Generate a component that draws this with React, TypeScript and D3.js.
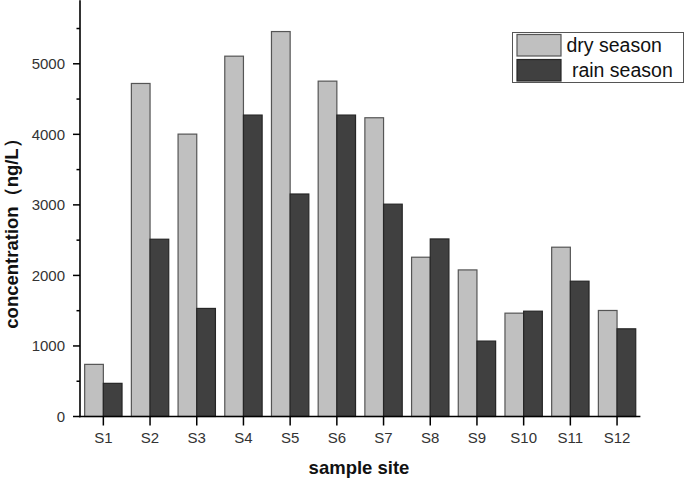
import React from "react";
import * as d3 from "d3";

const sites = ["S1", "S2", "S3", "S4", "S5", "S6", "S7", "S8", "S9", "S10", "S11", "S12"];
const drySeason = [739, 4721, 4003, 5108, 5457, 4754, 4235, 2258, 2078, 1465, 2400, 1503];
const rainSeason = [470, 2513, 1532, 4273, 3154, 4273, 3010, 2517, 1069, 1493, 1918, 1243];
const yMajorTicks = [0, 1000, 2000, 3000, 4000, 5000];
const yMinorTicks = [500, 1500, 2500, 3500, 4500, 5500];
const seriesNames = ["dry season", " rain season"];

const W = 685;
const H = 480;
const FONT = "'Liberation Sans', Arial, Helvetica, sans-serif";

export default function App() {
  const x = d3.scaleBand<string>().domain(sites).range([80, 640.4]).paddingInner(0).paddingOuter(0);
  const y = d3.scaleLinear().domain([0, 5900]).range([416.5, 0.3]);
  const step = x.step();
  const bw = step * 0.4;
  const c = (s: string) => (x(s) as number) + x.bandwidth() / 2;
  const y0 = y(0);

  return (
    <svg width={W} height={H} style={{ position: "absolute", left: 0, top: 0, background: "#fff" }}>
      <rect x={0} y={0} width={W} height={H} fill="#fff" />
      {/* bars */}
      {sites.map((s, i) => (
        <g key={s}>
          <rect
            x={c(s) - bw}
            y={y(drySeason[i])}
            width={bw}
            height={y0 - y(drySeason[i])}
            fill="#c0c0c0"
            stroke="#555"
            strokeWidth={1.2}
          />
          <rect
            x={c(s)}
            y={y(rainSeason[i])}
            width={bw}
            height={y0 - y(rainSeason[i])}
            fill="#404040"
            stroke="#262626"
            strokeWidth={1.2}
          />
        </g>
      ))}
      {/* y axis */}
      <line x1={80} x2={80} y1={y(5900)} y2={y0 + 0.8} stroke="#000" strokeWidth={1.6} />
      {yMajorTicks.map((t) => (
        <g key={t}>
          <line x1={73} x2={80} y1={y(t)} y2={y(t)} stroke="#000" strokeWidth={1.5} />
          <text x={65} y={y(t) + 5.3} textAnchor="end" fontFamily={FONT} fontSize={15} fill="#333">
            {t}
          </text>
        </g>
      ))}
      {yMinorTicks.map((t) => (
        <line key={t} x1={76.5} x2={80} y1={y(t)} y2={y(t)} stroke="#000" strokeWidth={1.5} />
      ))}
      {/* x axis */}
      <line x1={79.2} x2={640.4} y1={y0} y2={y0} stroke="#000" strokeWidth={1.6} />
      {sites.map((s) => (
        <g key={s}>
          <line x1={c(s)} x2={c(s)} y1={y0} y2={y0 + 9} stroke="#000" strokeWidth={1.5} />
          <text x={c(s)} y={443} textAnchor="middle" fontFamily={FONT} fontSize={15} fill="#333">
            {s}
          </text>
        </g>
      ))}
      {/* axis titles */}
      <text x={359} y={474} textAnchor="middle" fontFamily={FONT} fontSize={18.5} fontWeight="bold" fill="#111">
        sample site
      </text>
      <text
        transform="translate(18,229) rotate(-90)"
        textAnchor="middle"
        fontFamily={FONT}
        fontSize={18.5}
        fontWeight="bold"
        fill="#111"
      >
        concentration（ng/L）
      </text>
      {/* legend */}
      <rect x={512.5} y={32.5} width={171} height={50} fill="#fff" stroke="#555" strokeWidth={1} />
      <rect x={517} y={34.5} width={44} height={21.5} fill="#c0c0c0" stroke="#555" strokeWidth={1.2} />
      <rect x={517} y={59.5} width={44} height={21.5} fill="#404040" stroke="#262626" strokeWidth={1.2} />
      <text x={566.5} y={51.7} fontFamily={FONT} fontSize={19.5} fill="#111" style={{ whiteSpace: "pre" }}>
        {seriesNames[0]}
      </text>
      <text x={566.5} y={76.7} fontFamily={FONT} fontSize={19.5} fill="#111" style={{ whiteSpace: "pre" }} xmlSpace="preserve">
        {seriesNames[1]}
      </text>
    </svg>
  );
}
